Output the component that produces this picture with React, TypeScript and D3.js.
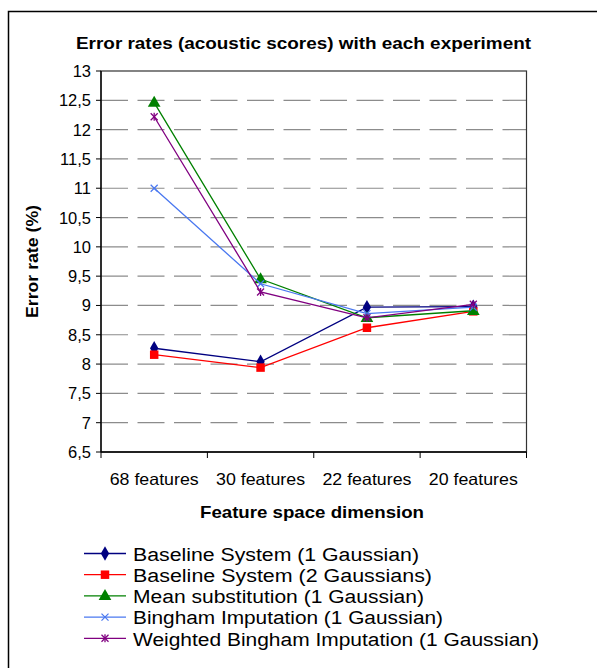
import React from "react";
import * as d3 from "d3";

const categories = ["68 features", "30 features", "22 features", "20 features"];
const baseline1 = [8.27, 8.04, 8.97, 8.98];
const baseline2 = [8.16, 7.94, 8.62, 8.9];
const meanSub = [12.46, 9.45, 8.79, 8.91];
const bingham = [11.0, 9.37, 8.86, 8.97];
const weighted = [12.22, 9.23, 8.79, 9.02];
const yTickValues = [6.5, 7, 7.5, 8, 8.5, 9, 9.5, 10, 10.5, 11, 11.5, 12, 12.5, 13];
const yTickLabels = ["6,5", "7", "7,5", "8", "8,5", "9", "9,5", "10", "10,5", "11", "11,5", "12", "12,5", "13"];
const seriesNames = [
  "Baseline System (1 Gaussian)",
  "Baseline System (2 Gaussians)",
  "Mean substitution (1 Gaussian)",
  "Bingham Imputation (1 Gaussian)",
  "Weighted Bingham Imputation (1 Gaussian)",
];
const seriesColors = ["#000080", "#ff0000", "#008000", "#4a78f0", "#800080"];
const seriesMarkers = ["diamond", "square", "triangle", "x", "star"];
const legendWidths = [286, 299, 291, 310, 406];

const FONT = "Arial, 'Liberation Sans', sans-serif";

function Marker({ type, color, x, y }: { type: string; color: string; x: number; y: number }) {
  if (type === "diamond") {
    const p = d3.symbol(d3.symbolDiamond, 60)();
    return <path d={p || ""} transform={`translate(${x},${y})`} fill={color} />;
  }
  if (type === "square") {
    const p = d3.symbol(d3.symbolSquare, 72)();
    return <path d={p || ""} transform={`translate(${x},${y})`} fill={color} />;
  }
  if (type === "triangle") {
    const p = d3.symbol(d3.symbolTriangle, 70)();
    return <path d={p || ""} transform={`translate(${x},${y + 0.5})`} fill={color} />;
  }
  if (type === "x") {
    const s = 3.5;
    return (
      <g transform={`translate(${x},${y})`} stroke={color} strokeWidth={1.2}>
        <line x1={-s} y1={-s} x2={s} y2={s} />
        <line x1={-s} y1={s} x2={s} y2={-s} />
      </g>
    );
  }
  const s = 3.5;
  return (
    <g transform={`translate(${x},${y})`} stroke={color} strokeWidth={1.3}>
      <line x1={-s} y1={-s} x2={s} y2={s} />
      <line x1={-s} y1={s} x2={s} y2={-s} />
      <line x1={0} y1={-s - 0.5} x2={0} y2={s + 0.5} />
    </g>
  );
}

export default function App() {
  const allSeries = [baseline1, baseline2, meanSub, bingham, weighted];
  const left = 101;
  const right = 526.5;
  const top = 71;
  const bottom = 452;
  const x = d3.scaleBand<string>().domain(categories).range([left, right]);
  const y = d3.scaleLinear().domain([6.5, 13]).range([bottom, top]);
  const line = d3
    .line<number>()
    .x((_, i) => (x(categories[i]) as number) + x.bandwidth() / 2)
    .y((d) => y(d));
  const boundaries = categories.map((c) => x(c) as number).concat([right]);
  const legendY0 = 553.5;
  const legendStep = 21.2;

  return (
    <div style={{ position: "absolute", left: 0, top: 0 }}>
      <svg width={597} height={668} style={{ display: "block", background: "#fff" }}>
        <rect x={8.5} y={11.5} width={600} height={700} fill="#fff" stroke="#000" strokeWidth={1.5} />
        <text
          x={303.5}
          y={49}
          textAnchor="middle"
          fontFamily={FONT}
          fontWeight="bold"
          fontSize={17}
          textLength={455}
          lengthAdjust="spacingAndGlyphs"
        >
          Error rates (acoustic scores) with each experiment
        </text>
        {/* gridlines */}
        {yTickValues
          .filter((v) => v > 6.5 && v < 13)
          .map((v) => (
            <line
              key={"g" + v}
              x1={left}
              x2={right}
              y1={y(v)}
              y2={y(v)}
              stroke="#8c8c8c"
              strokeWidth={1.2}
              strokeDasharray="27 9.5"
            />
          ))}
        {/* plot border */}
        <rect x={left} y={top} width={right - left} height={bottom - top} fill="none" stroke="#333" strokeWidth={1.2} />
        <line x1={left} x2={left} y1={top} y2={bottom} stroke="#000" strokeWidth={1.3} />
        <line x1={left} x2={right} y1={bottom} y2={bottom} stroke="#000" strokeWidth={1.3} />
        {/* y ticks */}
        {yTickValues.map((v, i) => (
          <g key={"yt" + v}>
            <line x1={left - 5} x2={left} y1={y(v)} y2={y(v)} stroke="#000" strokeWidth={1} />
            <text
              x={91}
              y={y(v) + 6}
              textAnchor="end"
              fontFamily={FONT}
              fontSize={16.5}
              fill="#000"
            >
              {yTickLabels[i]}
            </text>
          </g>
        ))}
        {/* x ticks */}
        {boundaries.map((b, i) => (
          <line key={"xt" + i} x1={b} x2={b} y1={bottom} y2={bottom + 6} stroke="#000" strokeWidth={1} />
        ))}
        {categories.map((c) => (
          <text
            key={c}
            x={(x(c) as number) + x.bandwidth() / 2}
            y={485}
            textAnchor="middle"
            fontFamily={FONT}
            fontSize={16.5}
            textLength={89}
            lengthAdjust="spacingAndGlyphs"
          >
            {c}
          </text>
        ))}
        <text
          x={312}
          y={518}
          textAnchor="middle"
          fontFamily={FONT}
          fontWeight="bold"
          fontSize={16.5}
          textLength={224}
          lengthAdjust="spacingAndGlyphs"
        >
          Feature space dimension
        </text>
        <text
          transform={`translate(38,${(top + bottom) / 2}) rotate(-90)`}
          textAnchor="middle"
          fontFamily={FONT}
          fontWeight="bold"
          fontSize={16}
          textLength={113}
          lengthAdjust="spacingAndGlyphs"
        >
          Error rate (%)
        </text>
        {/* series */}
        {allSeries.map((s, si) => (
          <g key={"s" + si}>
            <path d={line(s) || ""} fill="none" stroke={seriesColors[si]} strokeWidth={1.3} />
            {s.map((v, i) => (
              <Marker
                key={i}
                type={seriesMarkers[si]}
                color={seriesColors[si]}
                x={(x(categories[i]) as number) + x.bandwidth() / 2}
                y={y(v)}
              />
            ))}
          </g>
        ))}
        {/* legend */}
        {seriesNames.map((name, i) => {
          const ly = legendY0 + i * legendStep;
          return (
            <g key={"l" + i}>
              <line x1={84} x2={126} y1={ly} y2={ly} stroke={seriesColors[i]} strokeWidth={1.3} />
              <Marker type={seriesMarkers[i]} color={seriesColors[i]} x={105} y={ly} />
              <text
                x={133}
                y={ly + 7.3}
                fontFamily={FONT}
                fontSize={18}
                textLength={legendWidths[i]}
                lengthAdjust="spacingAndGlyphs"
              >
                {name}
              </text>
            </g>
          );
        })}
      </svg>
    </div>
  );
}
